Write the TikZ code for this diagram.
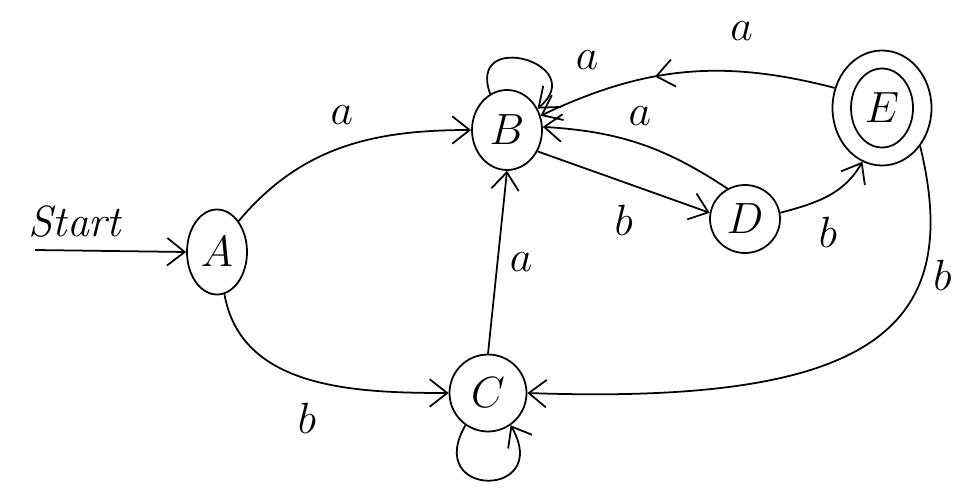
\documentclass[tikz,border=0pt]{standalone}
\usetikzlibrary{arrows.meta, shapes.geometric, decorations.markings}

\begin{document}
\begin{tikzpicture}[
    x=0.2mm, y=0.2mm,
    line width=1pt,
    >={Straight Barb[length=3.5mm,width=5.5mm]},
    state/.style={draw, ellipse, inner sep=0pt, font=\Huge},
    lbl/.style={inner sep=0pt, font=\Huge},
    arrow/.style={->},
    midarrow/.style={postaction={decorate, decoration={markings,
        mark=at position #1 with {\arrow{Straight Barb[length=3.5mm,width=5.5mm]}}}}}
]

\useasboundingbox (0,0) rectangle (964,487);

% States
\node[state, minimum width=12mm, minimum height=17mm] (A) at (217,235) {$A$};
\node[state, minimum width=14mm, minimum height=16mm] (B) at (507,357) {$B$};
\node[state, minimum width=15.4mm, minimum height=15.4mm] (C) at (488,94) {$C$};
\node[state, minimum width=14mm, minimum height=13.6mm] (D) at (745,268) {$D$};
\node[state, minimum width=19.8mm, minimum height=23mm] (E) at (882,379) {};
\node[state, minimum width=12.4mm, minimum height=15.8mm] (Ein) at (E) {$E$};

% Start arrow
\coordinate (start) at (35,237);
\node[lbl] (starttext) at (75,265) {\itshape Start};
\draw[arrow] (start) -- (A.west);

% From A
\draw[arrow] (A.55) to[out=50, in=180]
    node[lbl, midway, above=4.4mm] {$a$} (B.west);
\draw[arrow] (A.-80) to[out=-80, in=180]
    node[lbl, midway, below=4.6mm] {$b$} (C.west);

% Self loops
\draw[arrow] (B.115) to[out=110, in=40, min distance=14mm]
    node[lbl, midway, right=10mm] {$a$} (B.35);
\draw[arrow] (C.-125) to[out=-120, in=-60, min distance=17mm] (C.-55);

% Between B and D
\draw[arrow] (B.-35) -- (D.170)
    node[lbl, midway, below=4.4mm] {$b$};
\draw[arrow] (D.120) to[bend right=15]
    node[lbl, midway, above=3.5mm] {$a$} (B.5);

% C to B
\draw[arrow] (C.north) -- (B.south)
    node[lbl, midway, right=2.3mm] {$a$};

% Into and out of E
\draw[arrow] (D.10) to[out=15, in=-120]
    node[lbl, midway, below=4mm] {$b$} (E.-110);
\draw[arrow, midarrow=0.6] (E.157) to[bend right=20]
    node[lbl, pos=0.3, above=6mm] {$a$} (B.23);
\draw[arrow] (E.-45) .. controls (965,157) and (870,82) ..
    node[lbl, pos=0.28, right=2mm] {$b$} (C.east);

\end{tikzpicture}
\end{document}
